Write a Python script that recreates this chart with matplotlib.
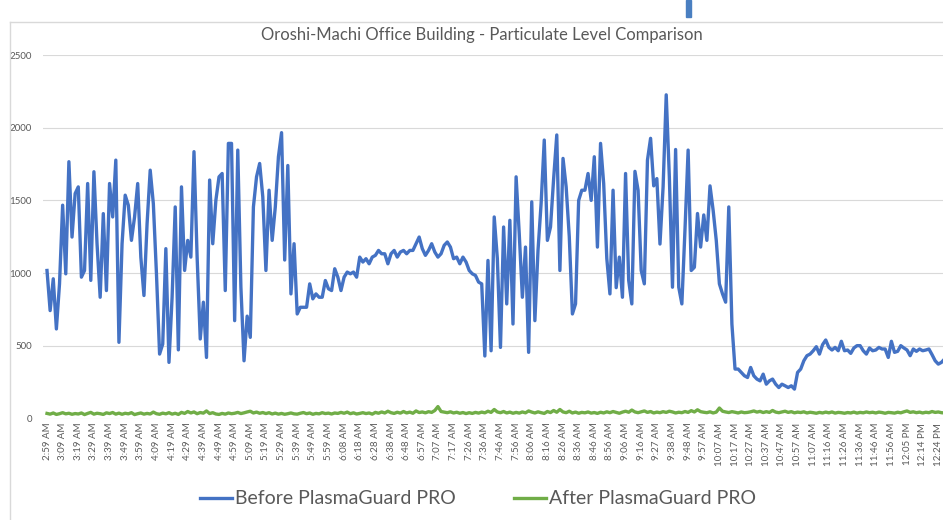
import matplotlib
matplotlib.use("Agg")
import matplotlib.pyplot as plt
from matplotlib.lines import Line2D
from matplotlib.patches import Rectangle

plt.rcParams['font.family'] = ['Lato', 'DejaVu Sans']

# tick labels, one every 5 samples
time_labels = [
    "2:59 AM", "3:09 AM", "3:19 AM", "3:29 AM", "3:39 AM", "3:49 AM", "3:59 AM",
    "4:09 AM", "4:19 AM", "4:29 AM", "4:39 AM", "4:49 AM", "4:59 AM", "5:09 AM",
    "5:19 AM", "5:29 AM", "5:39 AM", "5:49 AM", "5:59 AM", "6:08 AM", "6:18 AM",
    "6:28 AM", "6:38 AM", "6:48 AM", "6:57 AM", "7:07 AM", "7:17 AM", "7:26 AM",
    "7:36 AM", "7:46 AM", "7:56 AM", "8:06 AM", "8:16 AM", "8:26 AM", "8:36 AM",
    "8:46 AM", "8:56 AM", "9:06 AM", "9:16 AM", "9:27 AM", "9:38 AM", "9:48 AM",
    "9:57 AM", "10:07 AM", "10:17 AM", "10:27 AM", "10:37 AM", "10:47 AM",
    "10:57 AM", "11:07 AM", "11:16 AM", "11:26 AM", "11:36 AM", "11:46 AM",
    "11:56 AM", "12:05 PM", "12:14 PM", "12:24 PM",
]
label_step = 5

# particulate readings (one row per tick interval)
before = [
    1018, 742, 961, 616, 926,
    1467, 995, 1766, 1248, 1547,
    1593, 972, 1018, 1616, 950,
    1697, 1202, 834, 1409, 880,
    1616, 1386, 1777, 524, 1202,
    1536, 1467, 1225, 1386, 1616,
    1110, 846, 1340, 1708, 1478,
    995, 443, 512, 1168, 386,
    834, 1455, 472, 1593, 1018,
    1225, 1110, 1835, 1110, 547,
    800, 420, 1640, 1202, 1501,
    1662, 1685, 880, 1892, 1892,
    673, 1846, 903, 397, 704,
    558, 1455, 1662, 1754, 1524,
    1018, 1570, 1225, 1455, 1800,
    1966, 1090, 1740, 857, 1202,
    719, 765, 765, 765, 926,
    823, 857, 834, 834, 949,
    892, 880, 1030, 972, 880,
    972, 1007, 995, 1007, 972,
    1110, 1076, 1099, 1064, 1110,
    1122, 1156, 1133, 1133, 1064,
    1133, 1156, 1110, 1145, 1156,
    1133, 1156, 1156, 1202, 1248,
    1168, 1122, 1156, 1202, 1145,
    1110, 1133, 1191, 1214, 1179,
    1099, 1110, 1064, 1110, 1076,
    1018, 995, 984, 938, 926,
    430, 1087, 466, 1386, 1100,
    489, 1317, 788, 1363, 650,
    1662, 1271, 834, 1179, 455,
    1490, 673, 1156, 1480, 1915,
    1225, 1317, 1650, 1950, 1018,
    1789, 1593, 1250, 719, 788,
    1500, 1570, 1570, 1685, 1500,
    1800, 1179, 1892, 1616, 1100,
    857, 1570, 900, 1110, 834,
    1685, 950, 788, 1700, 1570,
    1018, 926, 1777, 1927, 1600,
    1650, 1200, 1593, 2226, 1660,
    903, 1850, 903, 788, 1300,
    1846, 1018, 1040, 1410, 1179,
    1400, 1225, 1600, 1432, 1225,
    926, 857, 800, 1455, 650,
    340, 340, 317, 294, 282,
    351, 294, 271, 259, 305,
    236, 259, 271, 236, 213,
    236, 225, 213, 225, 202,
    317, 340, 397, 432, 443,
    466, 494, 443, 508, 540,
    489, 471, 489, 466, 531,
    466, 471, 448, 485, 501,
    501, 466, 443, 485, 466,
    471, 489, 478, 478, 420,
    531, 455, 462, 501, 485,
    471, 432, 478, 462, 478,
    466, 471, 478, 439, 397,
    374, 386, 409,
]

after = [
    35, 30, 38, 28, 33,
    40, 32, 36, 29, 34,
    31, 38, 27, 35, 42,
    30, 36, 33, 28, 39,
    34, 41, 30, 37, 29,
    36, 32, 40, 27, 33,
    38, 30, 35, 31, 44,
    33, 29, 37, 32, 40,
    30, 36, 28, 42, 35,
    48, 38, 45, 33, 41,
    37, 52, 34, 40, 31,
    28, 35, 30, 38, 33,
    36, 42, 34, 39, 45,
    50, 38, 44, 36, 41,
    34, 40, 31, 37, 30,
    35, 29, 33, 38, 32,
    30, 36, 41, 33, 38,
    29, 35, 32, 40, 34,
    37, 31, 38, 35, 42,
    36, 44, 33, 39, 31,
    35, 40, 34, 38, 30,
    42, 36, 45, 38, 50,
    40, 35, 43, 37, 48,
    38, 44, 36, 52, 41,
    45, 39, 47, 42, 55,
    82, 48, 44, 40, 46,
    38, 43, 36, 41, 34,
    40, 35, 42, 37, 44,
    39, 50, 42, 62, 45,
    40, 48, 38, 44, 36,
    42, 37, 45, 39, 52,
    44, 38, 46, 40, 35,
    48, 41, 55, 43, 62,
    45, 40, 50, 38, 44,
    36, 42, 39, 45, 37,
    41, 35, 43, 38, 46,
    40, 48, 42, 36, 44,
    50, 43, 58, 45, 40,
    46, 52, 42, 48, 38,
    44, 40, 47, 42, 50,
    45, 38, 43, 40, 48,
    42, 54, 45, 60, 47,
    43, 40, 46, 38, 44,
    72, 50, 45, 41, 47,
    43, 38, 45, 40, 42,
    46, 52, 44, 49, 41,
    47, 42, 55, 44, 40,
    45, 50, 42, 47, 39,
    44, 41, 46, 38, 43,
    40, 36, 42, 38, 44,
    39, 45, 37, 42, 40,
    36, 41, 38, 44, 37,
    42, 39, 45, 40, 43,
    38, 44, 41, 36, 42,
    40, 37, 43, 39, 46,
    52, 42, 46, 40, 44,
    38, 43, 40, 48, 42,
    45, 40, 38,
]

idx = list(range(len(before)))
grey = '#595959'

fig = plt.figure(figsize=(9.43, 5.2), dpi=100)
ax = fig.add_axes([43 / 943, 1 - 418.5 / 520, 1 - 43 / 943, (418.5 - 55) / 520])

ax.plot(idx, before, color='#4472C4', lw=2.4, label='Before PlasmaGuard PRO')
ax.plot(idx, after, color='#70AD47', lw=2.4, label='After PlasmaGuard PRO')

ax.set_ylim(0, 2500)
ax.set_xlim(-1.28, 286.5)
ax.set_yticks([0, 500, 1000, 1500, 2000, 2500])
ax.set_xticks(list(range(0, len(time_labels) * label_step, label_step)))
ax.set_xticklabels(time_labels, rotation=90)
ax.tick_params(axis='both', length=0, labelsize=7, labelcolor=grey)
ax.tick_params(axis='y', pad=8)
ax.tick_params(axis='x', pad=3)
ax.grid(axis='y', color='#d9d9d9', lw=0.8)
ax.set_axisbelow(True)
for s in ax.spines.values():
    s.set_visible(False)

fig.text(482 / 943, 1 - 35 / 520, 'Oroshi-Machi Office Building - Particulate Level Comparison',
         ha='center', va='center', fontsize=12, color=grey)

fig.legend(loc='center', bbox_to_anchor=(478 / 943, 1 - 499 / 520), ncol=2, frameon=False,
           fontsize=14, labelcolor=grey, handlelength=1.65, columnspacing=3.0, handletextpad=0.15)

# chart frame and the stray selection mark at the top
fig.add_artist(Line2D([10 / 943, 10 / 943], [0, 1 - 22 / 520], color='#d9d9d9', lw=1))
fig.add_artist(Line2D([10 / 943, 1], [1 - 22 / 520, 1 - 22 / 520], color='#d9d9d9', lw=1))
fig.add_artist(Rectangle((686 / 943, 1 - 17 / 520), 5 / 943, 17 / 520, color='#4a7fc1'))

fig.savefig('out.png', dpi=100)
